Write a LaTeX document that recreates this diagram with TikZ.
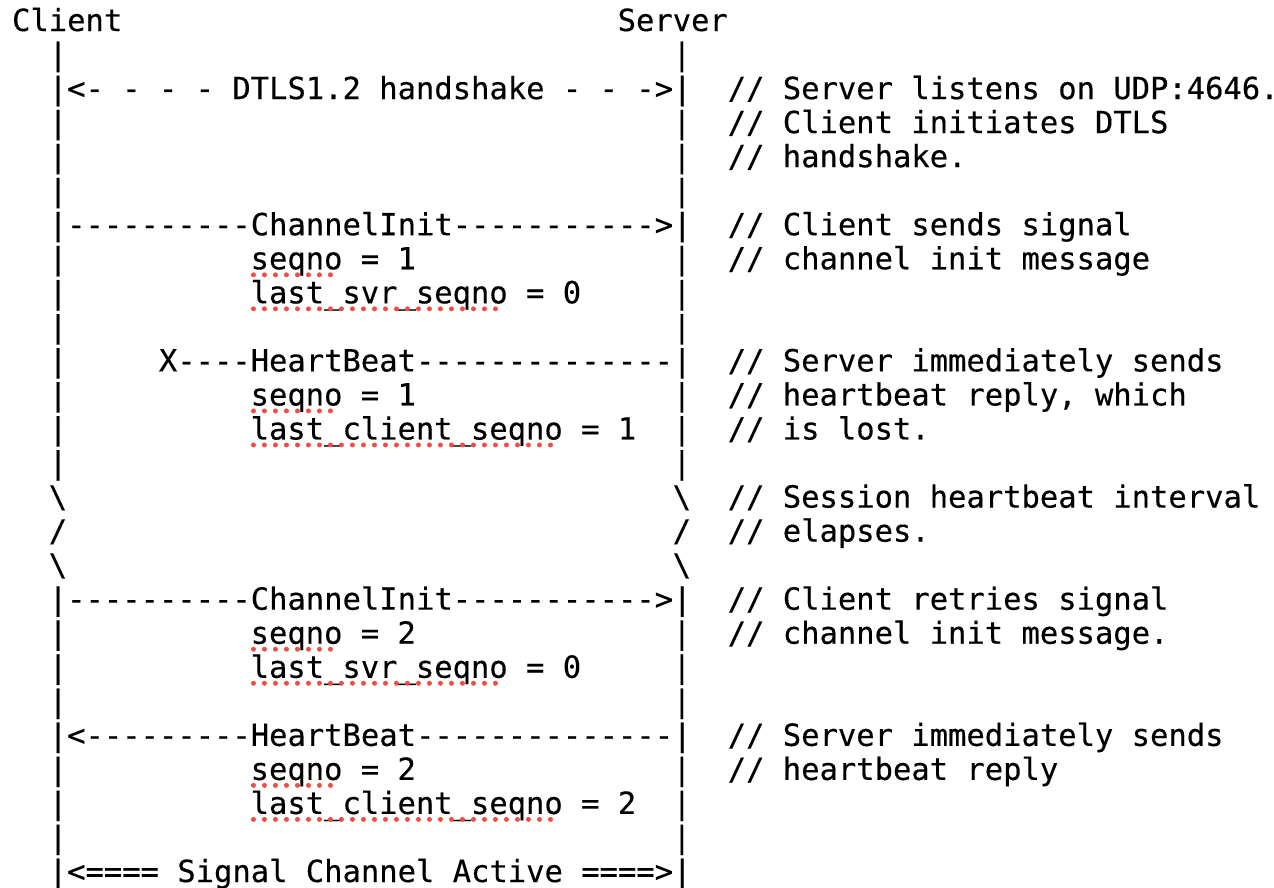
\documentclass[tikz,border=0pt]{standalone}
\usepackage{fontspec}
\setmonofont{DejaVu Sans Mono}[FakeBold=0.35]
\definecolor{spellred}{RGB}{238,78,68}
\def\XO{12.1}
\def\CW{18.35}
\def\BY{31}
\def\LS{34.04}
\tikzset{
  txt/.style={anchor=base west, inner sep=0pt, outer sep=0pt,
    font=\fontsize{30.5}{34}\selectfont\ttfamily, text=black},
  spell/.style={draw=spellred, line width=5pt, line cap=round,
    dash pattern=on 0pt off 11pt}
}
\newcommand\T[4]{\node[txt] (#1) at ({\XO+#2*\CW},{\BY+(#3-1)*\LS}) {#4};}
\newcommand\SPL[3]{\draw[spell] ({\XO+#1*\CW+2.8},{\BY+(#2-1)*\LS+5.5}) -- ({\XO+(#1+#3)*\CW-2.2},{\BY+(#2-1)*\LS+5.5});}
\begin{document}
\begin{tikzpicture}[x=1pt,y=-1pt]
\useasboundingbox (0,0) rectangle (1274,887);
% headers
\T{client}{0}{1}{Client}
\T{server}{33}{1}{Server}
% lifeline pieces
\foreach \r in {2,4,5,6,8,9,10,11,12,13,14,19,20,21,23,24,25} {\T{cl\r}{2}{\r}{|}}
\foreach \r in {2,4,5,6,8,9,10,12,13,14,19,20,21,23,24,25} {\T{sl\r}{36}{\r}{|}}
% messages
\T{m3}{2}{3}{|<- - - - DTLS1.2 handshake - - ->|}
\T{m7}{2}{7}{|----------ChannelInit----------->|}
\T{m8}{13}{8}{seqno = 1}
\T{m9}{13}{9}{last\_svr\_seqno = 0}
\T{m11}{8}{11}{X----HeartBeat--------------|}
\T{m12}{13}{12}{seqno = 1}
\T{m13}{13}{13}{last\_client\_seqno = 1}
\T{b15l}{2}{15}{\textbackslash}
\T{b15r}{36}{15}{\textbackslash}
\T{b16l}{2}{16}{/}
\T{b16r}{36}{16}{/}
\T{b17l}{2}{17}{\textbackslash}
\T{b17r}{36}{17}{\textbackslash}
\T{m18}{2}{18}{|----------ChannelInit----------->|}
\T{m19}{13}{19}{seqno = 2}
\T{m20}{13}{20}{last\_svr\_seqno = 0}
\T{m22}{2}{22}{|<---------HeartBeat--------------|}
\T{m23}{13}{23}{seqno = 2}
\T{m24}{13}{24}{last\_client\_seqno = 2}
\T{m26}{2}{26}{|<==== Signal Channel Active ====>|}
% comments
\T{k3}{39}{3}{// Server listens on UDP:4646.}
\T{k4}{39}{4}{// Client initiates DTLS}
\T{k5}{39}{5}{// handshake.}
\T{k7}{39}{7}{// Client sends signal}
\T{k8}{39}{8}{// channel init message}
\T{k11}{39}{11}{// Server immediately sends}
\T{k12}{39}{12}{// heartbeat reply, which}
\T{k13}{39}{13}{// is lost.}
\T{k15}{39}{15}{// Session heartbeat interval}
\T{k16}{39}{16}{// elapses.}
\T{k18}{39}{18}{// Client retries signal}
\T{k19}{39}{19}{// channel init message.}
\T{k22}{39}{22}{// Server immediately sends}
\T{k23}{39}{23}{// heartbeat reply}
% spell-check marks
\SPL{13}{8}{5}
\SPL{13}{9}{14}
\SPL{13}{12}{5}
\SPL{13}{13}{17}
\SPL{13}{19}{5}
\SPL{13}{20}{14}
\SPL{13}{23}{5}
\SPL{13}{24}{17}
\end{tikzpicture}
\end{document}
